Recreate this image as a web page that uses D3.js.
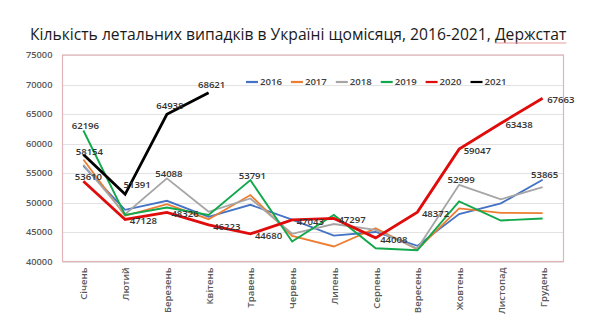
<!DOCTYPE html>
<html>
<head>
<meta charset="utf-8">
<script src="https://cdn.jsdelivr.net/npm/d3@7"></script>
<style>
  html, body { margin: 0; padding: 0; background: #ffffff; }
  svg { display: block; font-family: "Open Sans", "Noto Sans", "Liberation Sans", sans-serif; }
</style>
</head>
<body>
<svg id="chart" width="610" height="327"></svg>
<script>
// Monthly number of deaths in Ukraine, 2016–2021 (State Statistics Service)
const months = ["Січень", "Лютий", "Березень", "Квітень", "Травень", "Червень",
                "Липень", "Серпень", "Вересень", "Жовтень", "Листопад", "Грудень"];

const years = ["2016", "2017", "2018", "2019", "2020", "2021"];

const deaths2016 = [56200, 48760, 50290, 47560, 49610, 47100, 44400, 45000, 42650, 48050, 49850, 53865];
const deaths2017 = [57300, 47750, 49730, 47170, 51260, 44350, 42550, 45650, 42050, 49000, 48250, 48200];
const deaths2018 = [56400, 48000, 54088, 48420, 50680, 44700, 46350, 45350, 42200, 52999, 50550, 52600];
const deaths2019 = [62196, 47900, 49160, 47900, 53791, 43380, 47900, 42250, 41900, 50200, 46950, 47300];
const deaths2020 = [53610, 47128, 48326, 46223, 44680, 47043, 47297, 44008, 48372, 59047, 63438, 67663];
const deaths2021 = [58154, 51391, 64938, 68621];

const yTicks = [40000, 45000, 50000, 55000, 60000, 65000, 70000, 75000];

// Which points carry a value label, and where the label sits
const labelYears  = ["2019", "2019", "2021", "2021", "2021", "2021", "2020", "2020", "2020", "2020", "2020", "2020", "2020", "2020", "2020", "2020", "2020", "2020", "2018", "2018", "2016"];
const labelMonths = [0, 4, 0, 1, 2, 3, 0, 1, 2, 3, 4, 5, 6, 7, 8, 9, 10, 11, 2, 9, 11];
const labelPlaces = ["above", "above", "aboveShift", "aboveRight", "aboveHigh", "aboveHigh",
                     "aboveLow", "right", "right", "right", "right", "right", "right", "right", "right", "right", "right", "right",
                     "above", "above", "above"];

const seriesValues = {
  "2016": deaths2016, "2017": deaths2017, "2018": deaths2018,
  "2019": deaths2019, "2020": deaths2020, "2021": deaths2021
};

const colors = {
  "2016": "#4472c4", "2017": "#ed7d31", "2018": "#a5a5a5",
  "2019": "#12a84b", "2020": "#e00b0b", "2021": "#000000"
};
const widths = {
  "2016": 1.8, "2017": 1.8, "2018": 1.8, "2019": 1.9, "2020": 2.8, "2021": 2.8
};

// label offsets: x/y shift of the text anchor relative to the point
const placements = {
  above:      { dx: 2,  dy: -1.5, anchor: "middle" },
  aboveHigh:  { dx: 3,  dy: -5,   anchor: "middle" },
  aboveLow:   { dx: 5,  dy: -1.5, anchor: "middle" },
  aboveShift: { dx: 6,  dy: 1,    anchor: "middle" },
  aboveRight: { dx: 12, dy: -6,   anchor: "middle" },
  right:      { dx: 4.5, dy: 5,   anchor: "start" }
};

const svg = d3.select("#chart");

const plot = { left: 62.5, right: 563.5, top: 55, bottom: 261.5 };

const x = d3.scalePoint()
  .domain(months)
  .range([plot.left, plot.right])
  .padding(0.5);

const y = d3.scaleLinear()
  .domain([40000, 75000])
  .range([plot.bottom, plot.top]);

// Title: font size chosen so the line spans the intended width
const title = svg.append("text")
  .attr("x", 30)
  .attr("y", 40)
  .attr("font-size", 17)
  .attr("fill", "#1a1a1a")
  .text("Кількість летальних випадків в Україні щомісяця, 2016-2021, Держстат");
{
  const w = title.node().getComputedTextLength();
  title.attr("font-size", (17 * 537 / w).toFixed(2));
}

// spell-check style underline under the last word
{
  const node = title.node();
  const full = node.textContent;
  const idx = full.indexOf("Держстат");
  const x0 = node.getStartPositionOfChar(idx).x;
  const x1 = node.getEndPositionOfChar(full.length - 1).x;
  svg.append("line")
    .attr("x1", x0).attr("x2", x1)
    .attr("y1", 43).attr("y2", 43)
    .attr("stroke", "#e79a9a")
    .attr("stroke-width", 1);
}

// Horizontal gridlines
svg.append("g")
  .selectAll("line")
  .data(yTicks)
  .join("line")
  .attr("x1", plot.left)
  .attr("x2", plot.right)
  .attr("y1", d => Math.round(y(d)) + 0.5)
  .attr("y2", d => Math.round(y(d)) + 0.5)
  .attr("stroke", "#e3e3e3")
  .attr("stroke-width", 1);

// Plot-area frame
svg.append("rect")
  .attr("x", plot.left)
  .attr("y", plot.top)
  .attr("width", plot.right - plot.left)
  .attr("height", plot.bottom - plot.top)
  .attr("fill", "none")
  .attr("stroke", "#e2b3b8")
  .attr("stroke-width", 1.2);

// Y axis labels
const yAxis = d3.axisLeft(y).tickValues(yTicks).tickSize(0).tickPadding(10).tickFormat(d3.format("d"));
svg.append("g")
  .attr("transform", `translate(${plot.left},0)`)
  .call(yAxis)
  .call(g => g.select(".domain").remove())
  .call(g => g.selectAll("text")
    .attr("font-family", "'Open Sans', sans-serif")
    .attr("font-weight", 600)
    .attr("font-size", 9.3)
    .attr("fill", "#595959"));

// X axis labels, rotated
const xAxis = d3.axisBottom(x).tickSize(0).tickPadding(0);
svg.append("g")
  .attr("transform", `translate(0,${plot.bottom})`)
  .call(xAxis)
  .call(g => g.select(".domain").remove())
  .call(g => g.selectAll("text")
    .attr("font-family", "'Open Sans', sans-serif")
    .attr("font-weight", 600)
    .attr("font-size", 9.6)
    .attr("fill", "#595959")
    .attr("text-anchor", "end")
    .attr("transform", "rotate(-90)")
    .attr("x", -6)
    .attr("y", 0)
    .attr("dy", "0.35em"));

// Lines
const line = d3.line()
  .x((d, i) => x(months[i]))
  .y(d => y(d));

svg.append("g")
  .selectAll("path")
  .data(years)
  .join("path")
  .attr("d", yr => line(seriesValues[yr]))
  .attr("fill", "none")
  .attr("stroke", yr => colors[yr])
  .attr("stroke-width", yr => widths[yr])
  .attr("stroke-linejoin", "miter")
  .attr("stroke-linecap", "butt");

// Value labels
const labelData = labelYears.map((yr, i) => ({
  year: yr, month: labelMonths[i], place: placements[labelPlaces[i]]
}));

svg.append("g")
  .selectAll("text")
  .data(labelData)
  .join("text")
  .attr("x", d => x(months[d.month]) + d.place.dx)
  .attr("y", d => y(seriesValues[d.year][d.month]) + d.place.dy)
  .attr("text-anchor", d => d.place.anchor)
  .attr("font-family", "'Open Sans', sans-serif")
  .attr("font-weight", 600)
  .attr("font-size", 9.6)
  .attr("fill", "#333333")
  .text(d => seriesValues[d.year][d.month]);

// Legend
const legend = svg.append("g")
  .attr("transform", "translate(246,82)");

const item = legend.selectAll("g")
  .data(years)
  .join("g")
  .attr("transform", (d, i) => `translate(${i * 44.9},0)`);

item.append("line")
  .attr("x1", 0).attr("x2", 12)
  .attr("y1", 0).attr("y2", 0)
  .attr("stroke", d => colors[d])
  .attr("stroke-width", 2.2);

item.append("text")
  .attr("x", 14)
  .attr("y", 0)
  .attr("dy", "0.35em")
  .attr("font-family", "'Open Sans', sans-serif")
  .attr("font-weight", 600)
  .attr("font-size", 9.6)
  .attr("fill", "#404040")
  .text(d => d);
</script>
</body>
</html>
